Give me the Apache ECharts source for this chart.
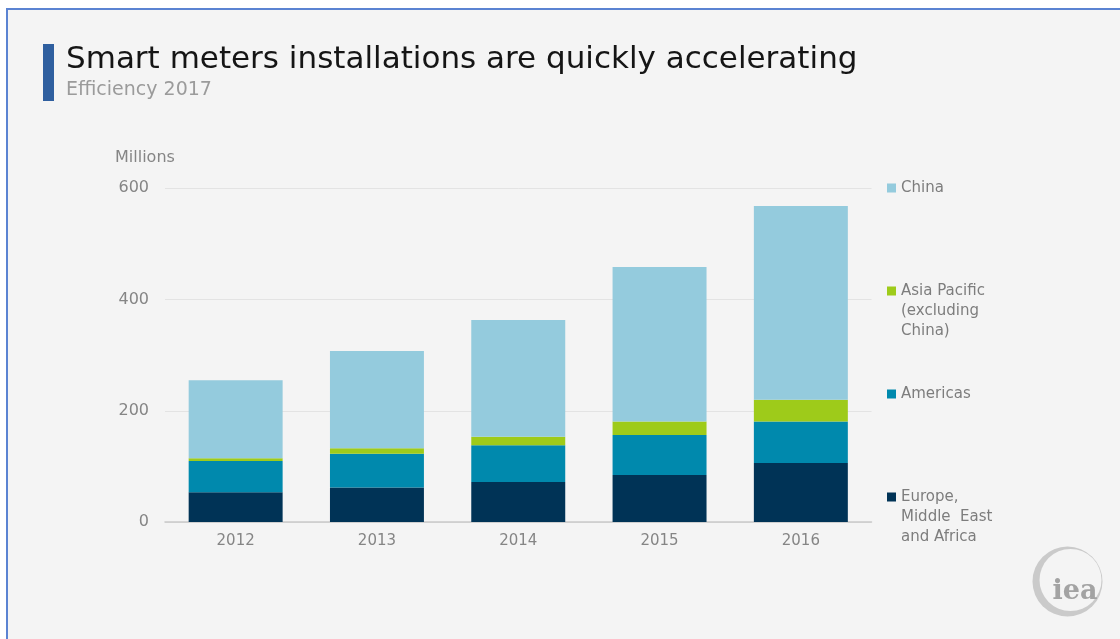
<!DOCTYPE html>
<html>
<head>
<meta charset="utf-8">
<title>Smart meters installations are quickly accelerating</title>
<script src="https://cdn.jsdelivr.net/npm/echarts@6/dist/echarts.min.js"></script>
<style>
  html, body { margin: 0; padding: 0; background: #ffffff; }
  #chart { width: 1120px; height: 639px; }
</style>
</head>
<body>
<div id="chart"></div>
<script>
// Smart meter installations by region, millions
const years = ['2012', '2013', '2014', '2015', '2016'];
const europeMEA = [53.5, 62, 72, 84.5, 106];
const americas = [56, 60.5, 66, 72, 74.5];
const asiaPacific = [5, 10, 15.5, 24, 39.5];
const china = [140.5, 175, 209.5, 278, 348];

const seriesNames = {
  emea: 'Europe,\nMiddle  East\nand Africa',
  americas: 'Americas',
  apac: 'Asia Pacific\n(excluding\nChina)',
  china: 'China'
};

const colors = {
  emea: '#003356',
  americas: '#0089ad',
  apac: '#9ecb1a',
  china: '#94cbdd'
};

const FONT = '"DejaVu Sans", sans-serif';
const panelBg = '#f4f4f4';

const chart = echarts.init(document.getElementById('chart'), null, { renderer: 'canvas' });

function bar(name, data, color) {
  return {
    name: name,
    type: 'bar',
    stack: 'total',
    data: data,
    barCategoryGap: '33.5%',
    itemStyle: { color: color },
    emphasis: { disabled: true }
  };
}

// Legend labels: multi-line names get blank lines above so the first
// line sits level with the colour swatch.
function legendLabel(name) {
  const lines = name.split('\n');
  const pad = new Array(lines.length - 1).fill('').join('\n');
  return lines.length > 1 ? pad + '\n' + name : name;
}

const option = {
  backgroundColor: '#ffffff',
  animation: false,
  grid: { left: 165, right: 248.5, top: 188.3, bottom: 117 },
  xAxis: {
    type: 'category',
    data: years,
    axisTick: { show: false },
    axisLine: { lineStyle: { color: '#c9c9c9', width: 1.5 } },
    axisLabel: { color: '#858585', fontFamily: FONT, fontSize: 15, margin: 12 }
  },
  yAxis: {
    type: 'value',
    min: 0,
    max: 600,
    interval: 200,
    axisLine: { show: false },
    axisTick: { show: false },
    splitLine: { lineStyle: { color: '#e3e3e3', width: 1 } },
    axisLabel: { color: '#858585', fontFamily: FONT, fontSize: 16, margin: 16 }
  },
  legend: {
    orient: 'vertical',
    left: 887,
    top: 178,
    itemWidth: 9,
    itemHeight: 9,
    itemGap: 43,
    icon: 'rect',
    padding: 0,
    selectedMode: false,
    formatter: legendLabel,
    data: [seriesNames.china, seriesNames.apac, seriesNames.americas, seriesNames.emea],
    textStyle: { color: '#7d7d7d', fontFamily: FONT, fontSize: 15, lineHeight: 20 }
  },
  series: [
    bar(seriesNames.emea, europeMEA, colors.emea),
    bar(seriesNames.americas, americas, colors.americas),
    bar(seriesNames.apac, asiaPacific, colors.apac),
    bar(seriesNames.china, china, colors.china)
  ],
  graphic: [
    {
      type: 'rect',
      z: -100,
      silent: true,
      shape: { x: 7, y: 9, width: 1200, height: 700 },
      style: { fill: panelBg, stroke: '#5b83d2', lineWidth: 2 }
    },
    {
      type: 'rect',
      silent: true,
      shape: { x: 43, y: 44, width: 11, height: 57 },
      style: { fill: '#2f5f9f' }
    },
    {
      type: 'text',
      silent: true,
      style: {
        text: 'Smart meters installations are quickly accelerating',
        x: 66, y: 60,
        font: '31px ' + FONT,
        fill: '#151515',
        textAlign: 'left',
        textVerticalAlign: 'middle'
      }
    },
    {
      type: 'text',
      silent: true,
      style: {
        text: 'Efficiency 2017',
        x: 66, y: 90,
        font: '19px ' + FONT,
        fill: '#9b9b9b',
        textAlign: 'left',
        textVerticalAlign: 'middle'
      }
    },
    {
      type: 'text',
      silent: true,
      style: {
        text: 'Millions',
        x: 115, y: 158,
        font: '16px ' + FONT,
        fill: '#858585',
        textAlign: 'left',
        textVerticalAlign: 'middle'
      }
    },
    // iea logo: crescent ring with the letters
    {
      type: 'group',
      silent: true,
      children: [
        {
          type: 'circle',
          shape: { cx: 1067.5, cy: 581.5, r: 35 },
          style: { fill: '#cacaca' }
        },
        {
          type: 'circle',
          shape: { cx: 1070.5, cy: 580, r: 31 },
          style: { fill: panelBg }
        },
        {
          type: 'text',
          style: {
            text: 'iea',
            x: 1075, y: 592,
            font: 'bold 27px "DejaVu Serif", serif',
            fill: '#a3a3a3',
            textAlign: 'center',
            textVerticalAlign: 'middle'
          }
        }
      ]
    }
  ]
};

chart.setOption(option);
</script>
</body>
</html>
